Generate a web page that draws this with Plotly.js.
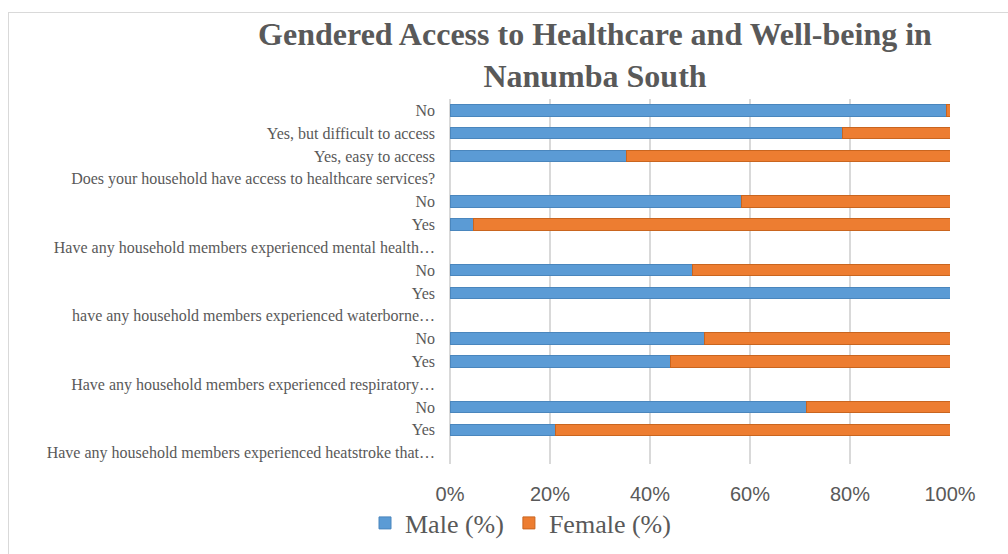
<!DOCTYPE html>
<html>
<head>
<meta charset="utf-8">
<script src="https://cdn.plot.ly/plotly-3.0.1.min.js"></script>
<style>
  html, body { margin: 0; padding: 0; background: #ffffff; }
  #chart { width: 1008px; height: 554px; }
  #frame { position: absolute; left: 8px; top: 12px; width: 1010px; height: 560px; border: 1px solid #d9d9d9; pointer-events: none; }
</style>
</head>
<body>
<div id="chart"></div>
<div id="frame"></div>
<script>
// Categories listed bottom to top (Excel order)
const categories = [
  "Have any household members experienced heatstroke that…",
  "Yes",
  "No",
  "Have any household members experienced respiratory…",
  "Yes",
  "No",
  "have any household members experienced waterborne…",
  "Yes",
  "No",
  "Have any household members experienced mental health…",
  "Yes",
  "No",
  "Does your household have access to healthcare services?",
  "Yes, easy to access",
  "Yes, but difficult to access",
  "No"
];
const malePct   = [null, 21, 71.2, null, 44.1, 50.9, null, 100, 48.5, null, 4.7, 58.3, null, 35.2, 78.5, 99.3];
const femalePct = [null, 79, 28.8, null, 55.9, 49.1, null, 0, 51.5, null, 95.3, 41.7, null, 64.8, 21.5, 0.7];
const xTickVals = [0, 20, 40, 60, 80, 100];
const xTickText = ["0%", "20%", "40%", "60%", "80%", "100%"];

const positions = categories.map((c, i) => i);
const textColor = "#595959";

const traces = [
  {
    type: "bar", orientation: "h", name: "Male (%)",
    y: positions, x: malePct,
    marker: { color: "#5B9BD5", line: { color: "#4A86BD", width: 1 } },
    hoverinfo: "x+name"
  },
  {
    type: "bar", orientation: "h", name: "Female (%)",
    y: positions, x: femalePct,
    marker: { color: "#ED7D31", line: { color: "#C9651F", width: 1 } },
    hoverinfo: "x+name"
  }
];

const layout = {
  width: 1008, height: 554,
  paper_bgcolor: "#ffffff", plot_bgcolor: "#ffffff",
  barmode: "stack", bargap: 0.5,
  margin: { l: 450, r: 58, t: 98.6, b: 90.2, pad: 0 },
  title: {
    text: "Gendered Access to Healthcare and Well-being in<br>Nanumba South",
    font: { family: "Liberation Serif", size: 32, color: textColor, weight: "bold" },
    x: 595 / 1008, xanchor: "center", xref: "container",
    y: 1 - 45 / 554, yanchor: "top", yref: "container"
  },
  xaxis: {
    range: [0, 100],
    tickvals: xTickVals, ticktext: xTickText,
    showgrid: true, gridcolor: "#d9d9d9", gridwidth: 1.5,
    zeroline: true, zerolinecolor: "#d9d9d9", zerolinewidth: 1.5,
    showline: false, ticks: "",
    ticklabelstandoff: 16,
    tickfont: { family: "Liberation Sans, Arial, sans-serif", size: 20, color: textColor },
    fixedrange: true
  },
  yaxis: {
    range: [-0.5, categories.length - 0.5],
    tickvals: positions, ticktext: categories,
    showgrid: false, zeroline: false, showline: false, ticks: "",
    ticklabelstandoff: 14,
    tickfont: { family: "Liberation Serif, Times New Roman, serif", size: 16, color: textColor },
    fixedrange: true
  },
  showlegend: true,
  legend: {
    orientation: "h", traceorder: "normal",
    x: (365 - 450) / 500, xanchor: "left",
    y: 1 - 523 / 554, yanchor: "middle", yref: "container",
    font: { family: "Liberation Serif, Times New Roman, serif", size: 26, color: textColor },
    bgcolor: "rgba(0,0,0,0)"
  }
};

Plotly.newPlot("chart", traces, layout, { displayModeBar: false, staticPlot: true });
</script>
</body>
</html>
